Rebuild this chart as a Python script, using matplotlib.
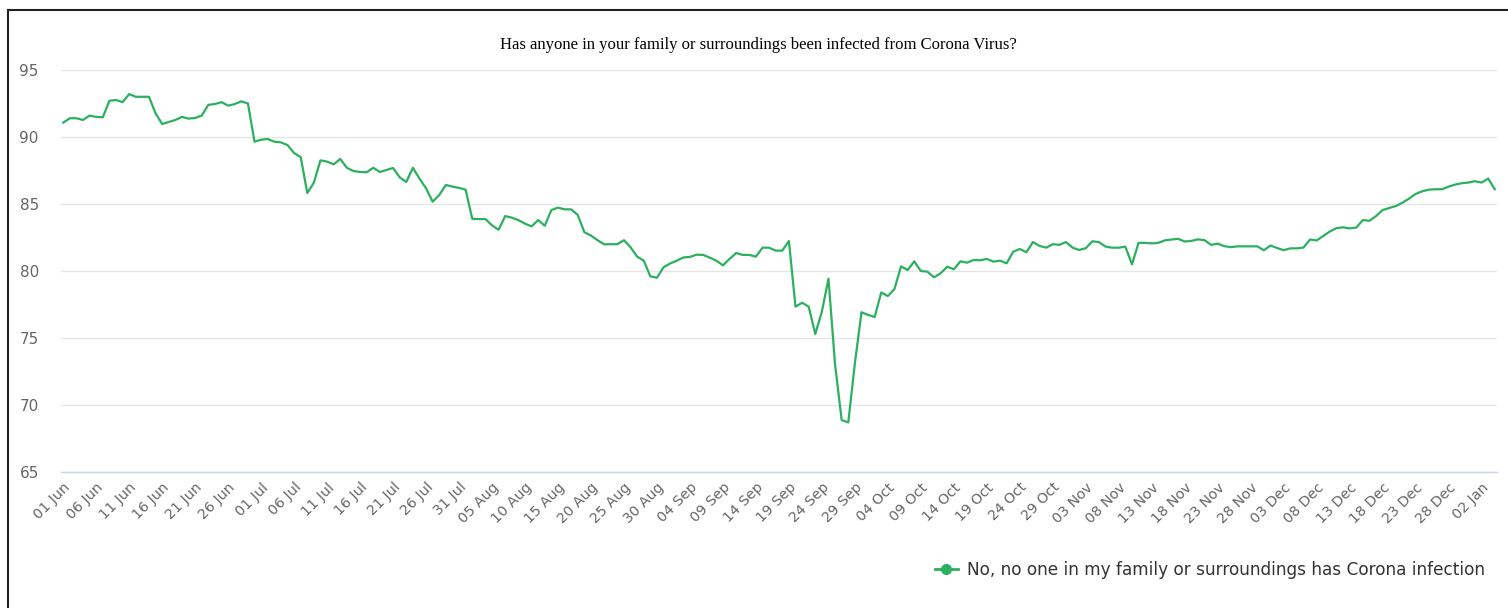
import numpy as np
import pandas as pd
import matplotlib
matplotlib.use("Agg")
import matplotlib.pyplot as plt
import matplotlib.dates as mdates
from matplotlib.lines import Line2D

# daily share (%) answering "No, no one ... has Corona infection", per month
jun = [91.07, 91.4, 91.4, 91.27, 91.6, 91.5, 91.47, 92.7, 92.76, 92.6,
       93.2, 93.0, 93.0, 93.0, 91.77, 90.97, 91.12, 91.27, 91.5, 91.37,
       91.42, 91.6, 92.4, 92.46, 92.6, 92.34, 92.46, 92.66, 92.5, 89.65]
jul = [89.8, 89.85, 89.65, 89.6, 89.4, 88.8, 88.5, 85.82, 86.6, 88.26,
       88.16, 87.96, 88.36, 87.7, 87.46, 87.39, 87.37, 87.7, 87.39, 87.54,
       87.69, 86.99, 86.64, 87.7, 86.9, 86.17, 85.17, 85.67, 86.42, 86.3,
       86.2]
aug = [86.07, 83.9, 83.87, 83.88, 83.4, 83.08, 84.1, 83.98, 83.8, 83.53,
       83.33, 83.8, 83.38, 84.55, 84.73, 84.6, 84.6, 84.18, 82.89, 82.64,
       82.3, 81.99, 82.0, 82.0, 82.3, 81.77, 81.07, 80.77, 79.6, 79.5,
       80.28]
sep = [80.56, 80.77, 81.01, 81.05, 81.22, 81.2, 81.0, 80.77, 80.42, 80.9,
       81.34, 81.2, 81.2, 81.07, 81.74, 81.74, 81.52, 81.52, 82.24, 77.34,
       77.63, 77.34, 75.3, 76.97, 79.43, 73.0, 68.88, 68.7, 73.1, 76.92]
oct_ = [76.72, 76.57, 78.4, 78.13, 78.65, 80.35, 80.07, 80.72, 80.0, 79.95,
        79.53, 79.83, 80.32, 80.13, 80.72, 80.62, 80.82, 80.8, 80.9, 80.7,
        80.77, 80.57, 81.44, 81.64, 81.4, 82.16, 81.87, 81.74, 82.0, 81.95,
        82.16]
nov = [81.74, 81.57, 81.7, 82.22, 82.15, 81.82, 81.74, 81.74, 81.82, 80.5,
       82.1, 82.1, 82.06, 82.1, 82.29, 82.35, 82.4, 82.2, 82.25, 82.36,
       82.3, 81.95, 82.04, 81.85, 81.78, 81.84, 81.84, 81.84, 81.84, 81.55]
dec = [81.9, 81.72, 81.55, 81.69, 81.69, 81.75, 82.35, 82.28, 82.62, 82.95,
       83.2, 83.26, 83.18, 83.24, 83.8, 83.75, 84.1, 84.55, 84.7, 84.85,
       85.1, 85.4, 85.75, 85.95, 86.07, 86.1, 86.1, 86.3, 86.45, 86.55,
       86.6]
jan = [86.7, 86.6, 86.9, 86.1]

values = jun + jul + aug + sep + oct_ + nov + dec + jan
dates = pd.date_range("2020-06-01", periods=len(values), freq="D")
series_name = "No, no one in my family or surroundings has Corona infection"
title = "Has anyone in your family or surroundings been infected from Corona Virus?"

W, H = 1508, 608
fig = plt.figure(figsize=(W / 100, H / 100), dpi=100)
ax = fig.add_axes([61 / W, 1 - 472 / H, (1497 - 61) / W, (472 - 70) / H])

green = "#2bb05e"
ax.plot(dates, values, color=green, linewidth=1.6, solid_joinstyle="round")

ax.set_ylim(65, 95)
ax.set_yticks([65, 70, 75, 80, 85, 90, 95])
ax.set_xlim(dates[0] - pd.Timedelta(hours=8), dates[-1] + pd.Timedelta(hours=8))
ax.set_xticks(dates[::5])
ax.xaxis.set_major_formatter(mdates.DateFormatter("%d %b"))

ax.grid(axis="y", color="#e6e6e6", linewidth=1)
ax.set_axisbelow(True)
for s in ["top", "right", "left"]:
    ax.spines[s].set_visible(False)
ax.spines["bottom"].set_color("#ccd6eb")
ax.spines["bottom"].set_linewidth(1)

ax.tick_params(axis="y", length=0, pad=16, labelsize=11, labelcolor="#666666")
ax.tick_params(axis="x", length=0, pad=6, labelsize=10.3, labelcolor="#666666")
for lab in ax.get_xticklabels():
    lab.set_rotation(45)
    lab.set_ha("right")
    lab.set_rotation_mode("anchor")

fig.text(758 / W, 1 - 45 / H, title, ha="center", va="center",
         family="Liberation Serif", fontsize=12, color="#000000")

# legend at bottom right
h, = ax.plot([], [], color=green, linewidth=2, marker="o", markersize=7)
fig.legend([h], [series_name], loc="center right",
           bbox_to_anchor=(1500 / W, 1 - 570 / H), frameon=False,
           fontsize=12.2, labelcolor="#333333", handlelength=1.4,
           handletextpad=0.5)

# frame lines: top and left only
fig.add_artist(Line2D([8 / W, 1.0], [1 - 10 / H, 1 - 10 / H],
                      transform=fig.transFigure, color="#222222", linewidth=1.5))
fig.add_artist(Line2D([8 / W, 8 / W], [0.0, 1 - 10 / H],
                      transform=fig.transFigure, color="#222222", linewidth=1.5))

fig.savefig("out.png", dpi=100)
